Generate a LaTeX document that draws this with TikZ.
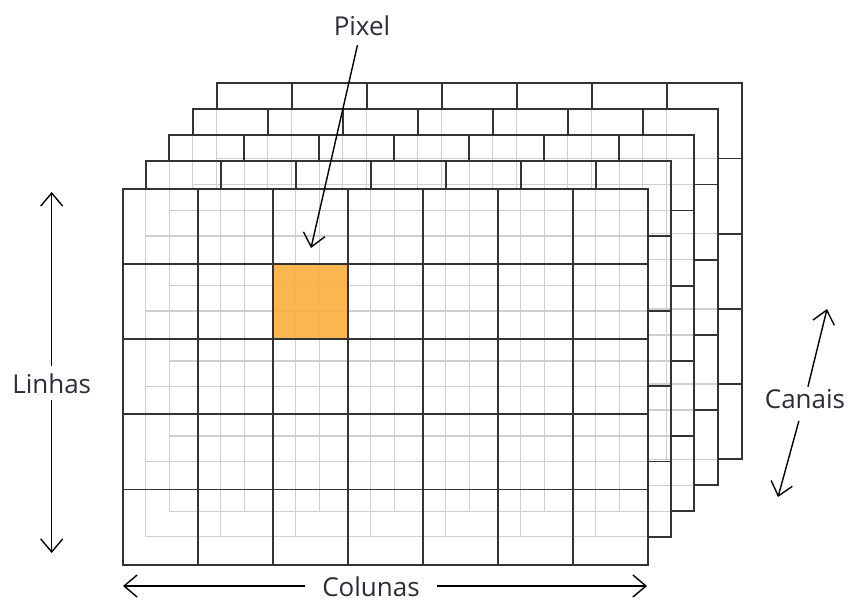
\documentclass[tikz,border=0pt]{standalone}
\usepackage{fontspec}
\setmainfont{Open Sans}
\usetikzlibrary{arrows.meta}
\definecolor{pixorange}{RGB}{250,173,58}
\definecolor{txtcol}{RGB}{45,45,55}
\newcommand\mygrid[2]{%
  \draw (#1,#2) rectangle ++(525,376);
  \foreach \k in {1,...,6} {\draw (#1+75*\k,#2) -- ++(0,376);}
  \foreach \k in {1,...,4} {\draw (#1,#2+75.2*\k) -- ++(525,0);}
}
\tikzset{
  darkline/.style={draw=black!80, line width=1.7pt},
  lightline/.style={draw=black!19, line width=1.3pt},
  arr/.style={draw=black, line width=1.4pt, -{Straight Barb[length=13pt,width=22pt]}},
  lbl/.style={text=txtcol, font=\fontsize{26}{30}\selectfont, inner sep=0pt}
}
\begin{document}
\begin{tikzpicture}[x=1pt,y=-1pt]
\useasboundingbox (0,0) rectangle (850,605);
\fill[white] (0,0) rectangle (850,605);
% lines of back layers seen through the layers in front of them
\begin{scope}[lightline]
  \foreach \lx/\ty in {169.3/135.3, 192.7/109.3, 216.7/83.3}{\mygrid{\lx}{\ty}}
\end{scope}
% front layer only lets the two nearest layers show through
\fill[white] (122.7,188.7) rectangle ++(525,376);
\begin{scope}
  \clip (122.7,188.7) rectangle ++(525,376);
  \begin{scope}[lightline]
    \foreach \lx/\ty in {145.7/160.7, 169.3/135.3}{\mygrid{\lx}{\ty}}
  \end{scope}
\end{scope}
% selected pixel
\fill[pixorange, fill opacity=0.88] (272.7,263.9) rectangle ++(75,75.2);
% visible parts of back layers
\foreach \lx/\ty/\px/\py in {216.7/83.3/192.7/109.3, 192.7/109.3/169.3/135.3, 169.3/135.3/145.7/160.7, 145.7/160.7/122.7/188.7}{
  \begin{scope}[even odd rule]
    \clip (\lx-5,\ty-5) rectangle ++(535,386) (\px,\py) rectangle ++(525,376);
    \begin{scope}[darkline]
      \mygrid{\lx}{\ty}
    \end{scope}
  \end{scope}
}
% front layer
\begin{scope}[darkline]
  \mygrid{122.7}{188.7}
\end{scope}
% labels
\node[lbl, anchor=base] (pix) at (362,35) {Pixel};
\node[lbl, anchor=base, inner ysep=7pt] (lin) at (51.7,393) {Linhas};
\node[lbl, anchor=base, inner xsep=17pt] (col) at (371,596) {Colunas};
\node[lbl, anchor=base] (can) at (805,408) {Canais};
\coordinate (ptip) at (311,248);
\coordinate (ltop) at (51.7,192);
\coordinate (lbot) at (51.7,553);
\coordinate (cleft) at (123,586);
\coordinate (cright) at (647,586);
\coordinate (ctop) at (827,309);
\coordinate (cbot) at (778,497);
% connectors
\draw[arr, shorten <=10pt] (pix) -- (ptip);
\draw[arr] (lin.north) -- (ltop);
\draw[arr] (lin.south) -- (lbot);
\draw[arr] (col.west |- cleft) -- (cleft);
\draw[arr] (col.east |- cright) -- (cright);
\draw[arr, shorten <=2pt] (can) -- (ctop);
\draw[arr, shorten <=13pt] (can) -- (cbot);
\end{tikzpicture}
\end{document}
